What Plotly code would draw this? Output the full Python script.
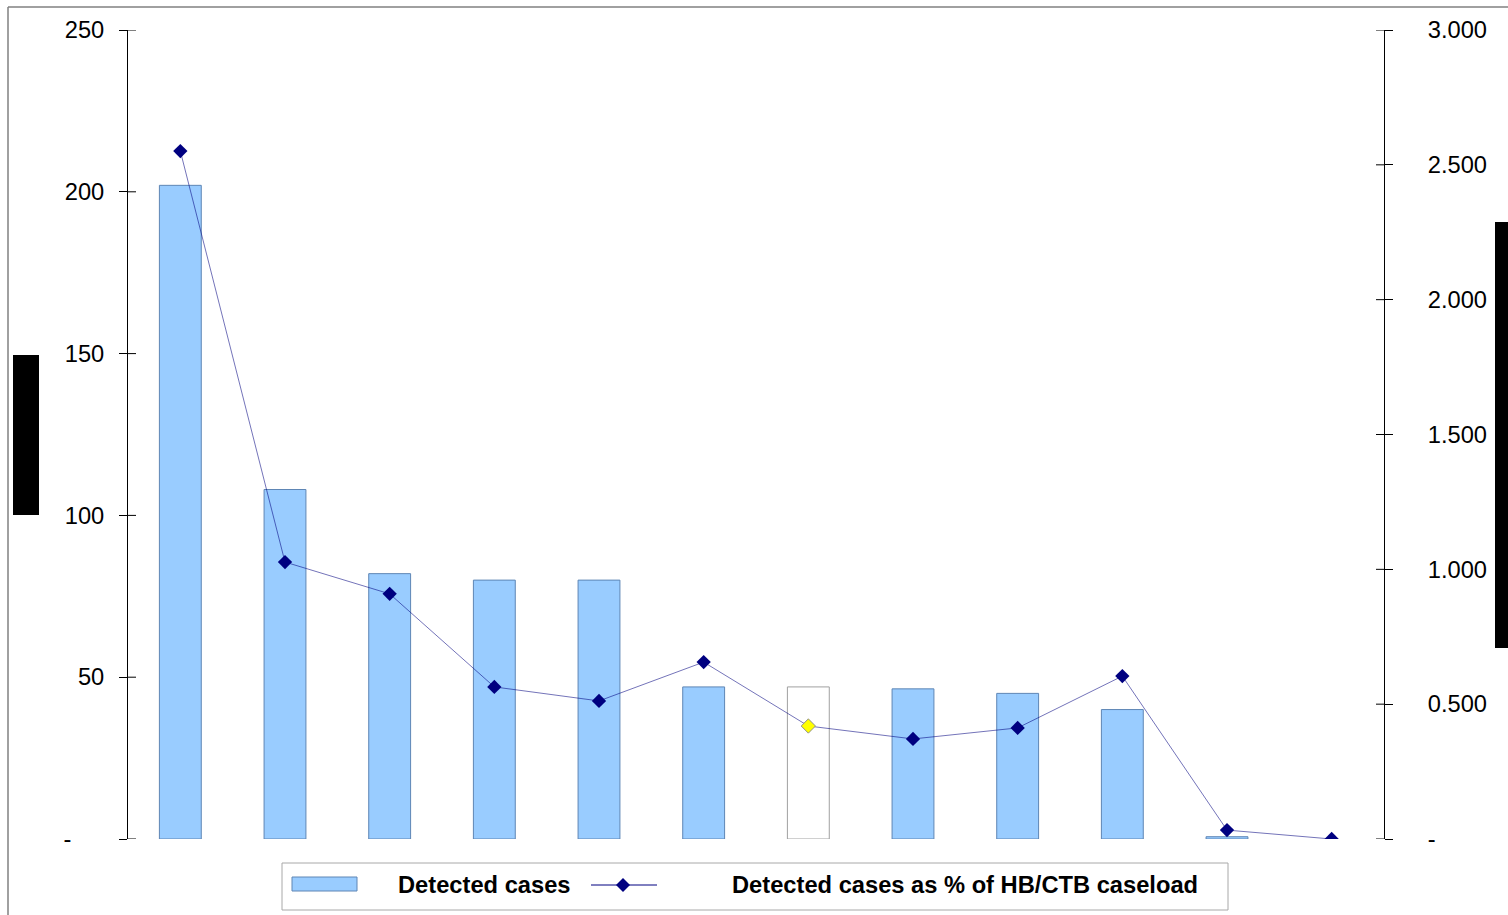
import plotly.graph_objects as go

# ---- data -------------------------------------------------------------
positions = list(range(1, 13))
detected_cases = [202, 108, 82, 80, 80, 47, 47, 46.4, 45, 40, 0.7, 0]
pct_of_caseload = [2.551, 1.027, 0.909, 0.564, 0.512, 0.656, 0.419, 0.371, 0.412, 0.604, 0.033, 0.0]
left_ticks = [0, 50, 100, 150, 200, 250]
left_ticktext = ["-" + "\u00a0" * 5, "50", "100", "150", "200", "250"]
right_ticks = [0, 0.5, 1.0, 1.5, 2.0, 2.5, 3.0]
right_ticktext = ["-", "0.500", "1.000", "1.500", "2.000", "2.500", "3.000"]
highlight_index = 6  # the hollow bar / yellow marker

bar_label = "Detected cases"
line_label = "Detected cases as % of HB/CTB caseload"

# ---- geometry helpers (pixel -> paper) ----------------------------------
W, H = 1508, 915
L, R, T, B = 128, 1384, 30, 839
TICK = 8


def px(x):
    return (x - L) / (R - L)


def py(y):
    return (B - y) / (B - T)


FONT = "Liberation Sans, Arial, sans-serif"
FS = 23.7
BAR_FILL = "#99CCFF"
BAR_EDGE = "#5E86B5"
NAVY = "#000080"

n = len(positions)
bar_fills = [("#FFFFFF" if i == highlight_index else BAR_FILL) for i in range(n)]
bar_edges = [("#A0A0A0" if i == highlight_index else BAR_EDGE) for i in range(n)]
bar_edge_w = [(1 if detected_cases[i] > 0 else 0) for i in range(n)]
mk_fill = [("#FFFF00" if i == highlight_index else NAVY) for i in range(n)]
mk_edge = [("#909090" if i == highlight_index else NAVY) for i in range(n)]
mk_edge_w = [(1 if i == highlight_index else 0) for i in range(n)]

fig = go.Figure()
fig.add_trace(go.Bar(
    x=positions, y=detected_cases, name=bar_label,
    marker=dict(color=bar_fills, line=dict(color=bar_edges, width=bar_edge_w)),
    showlegend=False,
))
fig.add_trace(go.Scatter(
    x=positions, y=pct_of_caseload, name=line_label, yaxis="y2",
    mode="lines+markers",
    line=dict(color="rgba(0,0,128,0.55)", width=1),
    marker=dict(symbol="diamond", size=11, color=mk_fill,
                line=dict(color=mk_edge, width=mk_edge_w)),
    showlegend=False,
))

axis_common = dict(showgrid=False, zeroline=False, tickcolor="black", tickwidth=1,
                   ticklen=TICK, ticks="outside", showline=True, linecolor="black",
                   linewidth=1, tickfont=dict(family=FONT, size=FS, color="black"))

fig.update_layout(
    width=W, height=H,
    margin=dict(l=L, r=W - R, t=T, b=H - B, pad=0),
    paper_bgcolor="white", plot_bgcolor="white",
    font=dict(family=FONT, size=FS, color="black"),
    bargap=0.6,
    showlegend=False,
    xaxis=dict(range=[0.5, 12.5], showline=False, showticklabels=False,
               showgrid=False, zeroline=False, ticks=""),
    yaxis=dict(range=[0, 250], tickvals=left_ticks, ticktext=left_ticktext,
               ticklabelstandoff=10, **axis_common),
    yaxis2=dict(range=[0, 3], tickvals=right_ticks, ticktext=right_ticktext,
                overlaying="y", side="right", ticklabelstandoff=30, **axis_common),
)

shapes = []
# inner halves of the crossing tick marks
for v in left_ticks:
    shapes.append(dict(type="line", xref="paper", yref="y", x0=0, x1=px(L + TICK),
                       y0=v, y1=v, line=dict(color="black", width=1), layer="above"))
for v in right_ticks:
    shapes.append(dict(type="line", xref="paper", yref="y2", x0=px(R - TICK), x1=1,
                       y0=v, y1=v, line=dict(color="black", width=1), layer="above"))
# outer frame edges
shapes.append(dict(type="line", xref="paper", yref="paper", x0=px(8), x1=px(8),
                   y0=py(7), y1=py(H + 5), line=dict(color="#808080", width=1.5)))
shapes.append(dict(type="line", xref="paper", yref="paper", x0=px(8), x1=px(W + 5),
                   y0=py(7), y1=py(7), line=dict(color="#808080", width=1.5)))
# rotated axis title blocks
shapes.append(dict(type="rect", xref="paper", yref="paper", x0=px(13), x1=px(39),
                   y0=py(515), y1=py(355), fillcolor="black", line=dict(width=0)))
shapes.append(dict(type="rect", xref="paper", yref="paper", x0=px(1495), x1=px(W + 5),
                   y0=py(648), y1=py(222), fillcolor="black", line=dict(width=0)))
# legend box
shapes.append(dict(type="rect", xref="paper", yref="paper", x0=px(282), x1=px(1228),
                   y0=py(910), y1=py(863), fillcolor="white",
                   line=dict(color="#A8A8A8", width=1)))
# legend bar swatch
shapes.append(dict(type="rect", xref="paper", yref="paper", x0=px(292), x1=px(357),
                   y0=py(891), y1=py(877), fillcolor=BAR_FILL,
                   line=dict(color=BAR_EDGE, width=1)))
# legend line sample with diamond
shapes.append(dict(type="line", xref="paper", yref="paper", x0=px(591), x1=px(657),
                   y0=py(885), y1=py(885), line=dict(color=NAVY, width=1)))
cx, cy, d = 623, 885, 7
shapes.append(dict(type="path", xref="paper", yref="paper",
                   path=f"M {px(cx - d)},{py(cy)} L {px(cx)},{py(cy - d)} "
                        f"L {px(cx + d)},{py(cy)} L {px(cx)},{py(cy + d)} Z",
                   fillcolor=NAVY, line=dict(width=0)))
fig.update_layout(shapes=shapes)

fig.add_annotation(x=px(396), y=py(885), xref="paper", yref="paper", text=bar_label,
                   xanchor="left", yanchor="middle", showarrow=False,
                   font=dict(family=FONT, size=FS, color="black", weight="bold"))
fig.add_annotation(x=px(730), y=py(885), xref="paper", yref="paper", text=line_label,
                   xanchor="left", yanchor="middle", showarrow=False,
                   font=dict(family=FONT, size=FS, color="black", weight="bold"))

fig.write_html("out.html")
